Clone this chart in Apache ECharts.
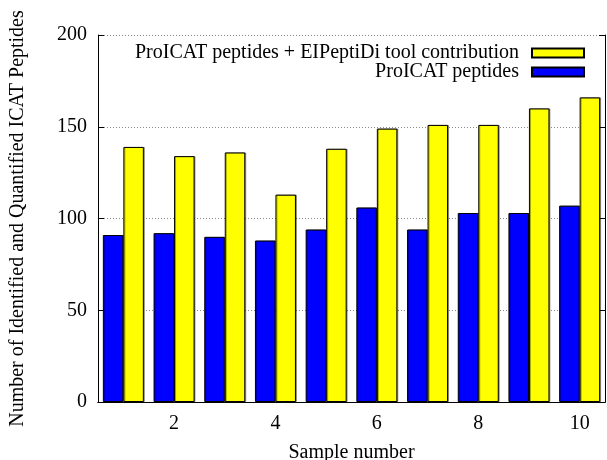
<!DOCTYPE html>
<html>
<head>
<meta charset="utf-8">
<script src="https://cdn.jsdelivr.net/npm/echarts@6/dist/echarts.min.js"></script>
<style>html,body{margin:0;padding:0;background:#fff;}#c{width:607px;height:460px;}</style>
</head>
<body>
<div id="c"></div>
<script>
var categories = ['1','2','3','4','5','6','7','8','9','10'];
var proicat = [91, 92, 90, 88, 94, 106, 94, 103, 103, 107];
var combined = [139, 134, 136, 113, 138, 149, 151, 151, 160, 166];
var yTicks = [0, 50, 100, 150, 200];
var nameCombined = 'ProICAT peptides + EIPeptiDi tool contribution';
var nameProicat = 'ProICAT peptides';

var font = 'Liberation Serif';
var fs = 20;
var chart = echarts.init(document.getElementById('c'), null, {renderer: 'canvas'});
var evenIdx = function (i) { return (i % 2) === 1; };
chart.setOption({
  animation: false,
  backgroundColor: '#fff',
  textStyle: {fontFamily: font},
  grid: {left: 98, right: 2, top: 35, bottom: 58, containLabel: false, outerBoundsMode: 'none'},
  legend: {
    data: [nameCombined, nameProicat],
    orient: 'vertical',
    align: 'right',
    padding: 0,
    right: 22,
    top: 43,
    itemWidth: 52,
    itemHeight: 9,
    itemGap: -1,
    icon: 'rect',
    textStyle: {fontFamily: font, fontSize: fs, lineHeight: 16, color: '#000', padding: [0, 8, 0, 0]}
  },
  xAxis: [{
    type: 'category',
    data: categories,
    position: 'bottom',
    name: 'Sample number',
    nameLocation: 'middle',
    nameGap: 41,
    nameTextStyle: {fontFamily: font, fontSize: fs, color: '#000'},
    axisLine: {lineStyle: {color: '#000', width: 1}},
    axisTick: {inside: true, alignWithLabel: true, interval: evenIdx, length: 5, lineStyle: {color: '#000'}},
    axisLabel: {interval: evenIdx, fontFamily: font, fontSize: fs, color: '#000', margin: 12},
    splitLine: {show: false}
  }, {
    type: 'category',
    data: categories,
    position: 'top',
    axisLine: {lineStyle: {color: '#000', width: 1}},
    axisTick: {inside: true, alignWithLabel: true, interval: evenIdx, length: 5, lineStyle: {color: '#000'}},
    axisLabel: {show: false},
    splitLine: {show: false}
  }],
  yAxis: [{
    type: 'value',
    min: yTicks[0],
    max: yTicks[yTicks.length - 1],
    interval: 50,
    name: 'Number of Identified and Quantified ICAT Peptides',
    nameLocation: 'middle',
    nameGap: 70,
    nameTextStyle: {fontFamily: font, fontSize: fs, color: '#000'},
    axisLine: {show: true, lineStyle: {color: '#000', width: 1}},
    axisTick: {show: true, inside: true, length: 6, lineStyle: {color: '#000'}},
    axisLabel: {fontFamily: font, fontSize: fs, color: '#000', margin: 11},
    splitLine: {show: true, lineStyle: {color: '#888', type: [1, 2], width: 1}}
  }, {
    type: 'value',
    min: yTicks[0],
    max: yTicks[yTicks.length - 1],
    interval: 50,
    position: 'right',
    axisLine: {show: true, lineStyle: {color: '#000', width: 1}},
    axisTick: {show: true, inside: true, length: 6, lineStyle: {color: '#000'}},
    axisLabel: {show: false},
    splitLine: {show: false}
  }],
  series: [{
    name: nameProicat,
    type: 'bar',
    data: proicat,
    barWidth: 20.5,
    barGap: '0%',
    itemStyle: {color: '#0000ff', borderColor: '#000', borderWidth: 1, shadowColor: 'rgba(0,0,0,0.35)', shadowOffsetX: 1, shadowOffsetY: 0}
  }, {
    name: nameCombined,
    type: 'bar',
    data: combined,
    barWidth: 20.5,
    barGap: '0%',
    itemStyle: {color: '#ffff00', borderColor: '#000', borderWidth: 1, shadowColor: 'rgba(0,0,0,0.35)', shadowOffsetX: 1, shadowOffsetY: 0}
  }]
});
</script>
</body>
</html>
